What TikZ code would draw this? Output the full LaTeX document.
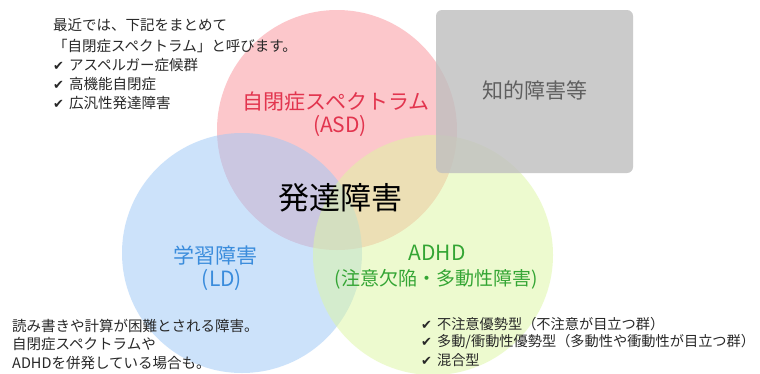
\documentclass[tikz,border=0pt]{standalone}
\usepackage{fontspec}
\setmainfont{Noto Sans CJK JP}
\newfontfamily\chkfont{DejaVu Sans}
\definecolor{asdfill}{RGB}{251,145,153}
\definecolor{ldfill}{RGB}{155,199,247}
\definecolor{adhdfill}{RGB}{221,247,161}
\definecolor{grayfill}{RGB}{191,191,191}
\definecolor{asdtext}{RGB}{226,52,78}
\definecolor{ldtext}{RGB}{58,140,220}
\definecolor{adhdtext}{RGB}{52,165,52}
\definecolor{bodytext}{RGB}{40,40,40}
\definecolor{idtext}{RGB}{95,95,95}
\newcommand{\chk}{{\chkfont\fontsize{13}{13}\selectfont ✔}\hspace{5pt}}
\begin{document}
\begin{tikzpicture}[x=1pt,y=-1pt,
  venn/.style={circle,minimum size=240pt,inner sep=0pt,draw=none,fill opacity=0.5},
  biglabel/.style={inner sep=0pt,font=\fontsize{21}{21}\selectfont},
  note/.style={inner sep=0pt,anchor=west,text=bodytext,font=\fontsize{14.5}{14.5}\selectfont}]
\useasboundingbox (0,0) rectangle (760,373);
\fill[white] (0,0) rectangle (760,373);
% circles
\node[venn,fill=asdfill] (asd) at (337,130) {};
\node[venn,fill=ldfill] (ld) at (242,253) {};
\node[venn,fill=adhdfill] (adhd) at (433,255) {};
% intellectual disability box
\node[draw=none,fill=grayfill,fill opacity=0.8,rounded corners=6pt,minimum width=197pt,minimum height=163pt,inner sep=0pt] (idbox) at (534.5,91.5) {};
\node[biglabel,text=idtext] (idlabel) at (535,90) {知的障害等};
% labels
\node[biglabel,text=asdtext] (asdname) at (336,102) {自閉症スペクトラム};
\node[biglabel,text=asdtext] (asdabbr) at (340,126) {(ASD)};
\node[biglabel,text=ldtext] (ldname) at (215,255) {学習障害};
\node[biglabel,text=ldtext] (ldabbr) at (222,280) {(LD)};
\node[biglabel,text=adhdtext] (adhdname) at (437,253) {ADHD};
\node[inner sep=0pt,text=adhdtext,font=\fontsize{19}{19}\selectfont] (adhdfull) at (436,279) {(注意欠陥・多動性障害)};
\node[inner sep=0pt,text=black,font=\fontsize{31}{31}\selectfont] (center) at (340,198) {発達障害};
% top-left note
\node[note] (tl1) at (53,25) {最近では、下記をまとめて};
\node[note] (tl2) at (53,46) {「自閉症スペクトラム」と呼びます。};
\node[note] (tl3) at (53,65) {\chk アスペルガー症候群};
\node[note] (tl4) at (53,84) {\chk 高機能自閉症};
\node[note] (tl5) at (53,103) {\chk 広汎性発達障害};
% bottom-left note
\node[note] (bl1) at (12,326) {読み書きや計算が困難とされる障害。};
\node[note] (bl2) at (12,344) {自閉症スペクトラムや};
\node[note] (bl3) at (12,363) {ADHDを併発している場合も。};
% bottom-right note
\node[note,font=\fontsize{14.2}{14.2}\selectfont] (br1) at (421,324) {\chk 不注意優勢型（不注意が目立つ群）};
\node[note,font=\fontsize{14.2}{14.2}\selectfont] (br2) at (421,342) {\chk 多動/衝動性優勢型（多動性や衝動性が目立つ群）};
\node[note,font=\fontsize{14.2}{14.2}\selectfont] (br3) at (421,360) {\chk 混合型};
\end{tikzpicture}
\end{document}
